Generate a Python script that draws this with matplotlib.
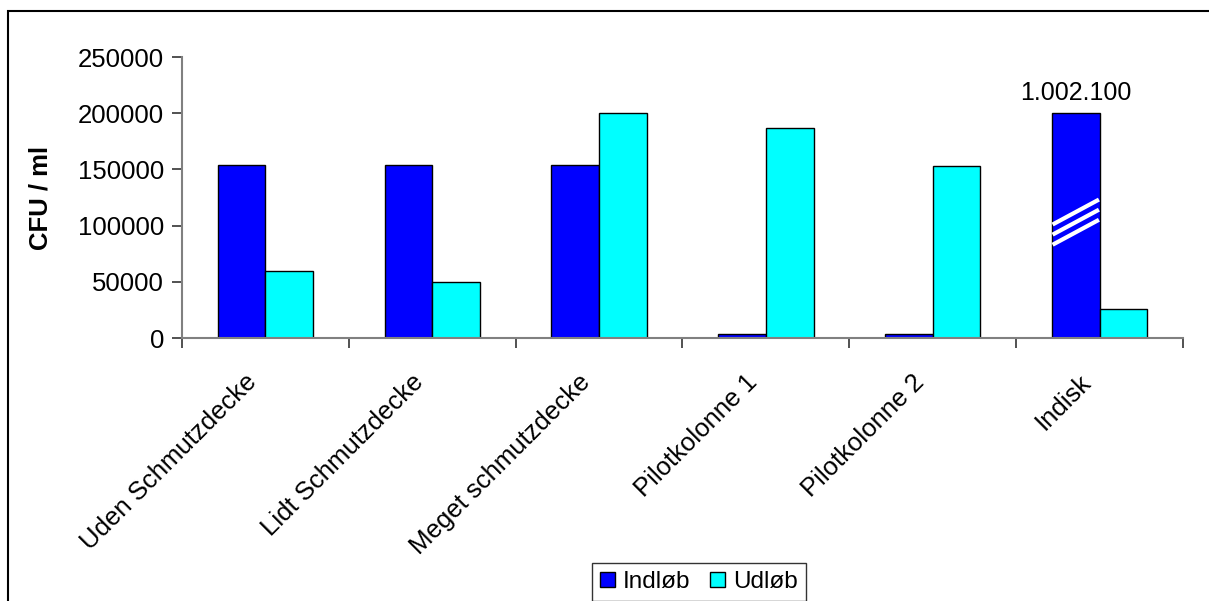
import matplotlib
matplotlib.use("Agg")
import matplotlib.pyplot as plt
from matplotlib.patches import Rectangle
import matplotlib.transforms as mtransforms
import numpy as np

plt.rcParams["font.family"] = ["Liberation Sans", "DejaVu Sans"]

categories = ["Uden Schmutzdecke", "Lidt Schmutzdecke", "Meget schmutzdecke",
              "Pilotkolonne 1", "Pilotkolonne 2", "Indisk"]
indlob = [154000, 154000, 154000, 4000, 4000, 1002100]
udlob = [59600, 50000, 200000, 187000, 153000, 25500]
series_names = ["Indløb", "Udløb"]
y_ticks = [0, 50000, 100000, 150000, 200000, 250000]
axis_cap = 200000  # bars above this are shown broken at this height

FS = 18.5

fig = plt.figure(figsize=(12.09, 6.01), dpi=100)
ax = fig.add_axes([0.1505, 0.4376, 0.828, 0.4674])

x = np.arange(len(categories))
bw = 0.2857
shown_in = [min(v, axis_cap) for v in indlob]
ax.bar(x - bw / 2, shown_in, bw, color="#0000FF", edgecolor="black",
       linewidth=1.0, label=series_names[0], zorder=2)
ax.bar(x + bw / 2, udlob, bw, color="#00FFFF", edgecolor="black",
       linewidth=1.0, label=series_names[1], zorder=2)

# break marks and true value on clipped bars
for i, v in enumerate(indlob):
    if v > axis_cap:
        x0 = x[i] - bw
        x1 = x[i]
        for yb in (101000, 92000, 83000):
            ax.plot([x0 + 0.004, x1 - 0.004], [yb, yb + 22200], color="white",
                    linewidth=3, solid_capstyle="butt", zorder=3)
        label = f"{v:,}".replace(",", ".")
        ax.annotate(label, (x[i] - bw / 2, axis_cap), xytext=(0, 6),
                    textcoords="offset points", ha="center", va="bottom",
                    fontsize=18)

ax.set_xlim(-0.5, len(categories) - 0.5)
ax.set_ylim(0, 250000)
ax.set_yticks(y_ticks)
ax.set_yticklabels([str(t) for t in y_ticks], fontsize=FS)
ax.set_xticks(x)
ax.set_xticklabels(categories, rotation=45, ha="right", va="center",
                   rotation_mode="anchor", fontsize=FS)
ax.tick_params(axis="x", which="major", length=0, pad=29)
shift = mtransforms.ScaledTranslation(-12 / 100, 0, fig.dpi_scale_trans)
for lbl in ax.get_xticklabels():
    lbl.set_transform(lbl.get_transform() + shift)
ax.set_xticks(np.arange(-0.5, len(categories)), minor=True)
ax.tick_params(axis="x", which="minor", length=7, width=1.2, color="#333333")
ax.tick_params(axis="y", length=7, width=1.2, color="#333333", pad=6)

for s in ("top", "right"):
    ax.spines[s].set_visible(False)
for s in ("left", "bottom"):
    ax.spines[s].set_color("#808080")
    ax.spines[s].set_linewidth(1.5)

ax.set_ylabel("CFU / ml", fontsize=FS, fontweight="bold", labelpad=18)

leg = fig.legend(loc="upper center", bbox_to_anchor=(0.5778, 1 - 563 / 601),
                 ncol=2, fontsize=17.5, frameon=True, fancybox=False,
                 edgecolor="black", borderaxespad=0,
                 handlelength=0.62, handleheight=0.62, handletextpad=0.33,
                 columnspacing=0.8, borderpad=0.33)
leg.get_frame().set_linewidth(1.0)

# outer chart frame
fig.add_artist(Rectangle((8 / 1209, -0.05), 1.2, 1 - 11 / 601 + 0.05,
                         transform=fig.transFigure, fill=False,
                         edgecolor="black", linewidth=1.5))

fig.savefig("out.png", dpi=100)
